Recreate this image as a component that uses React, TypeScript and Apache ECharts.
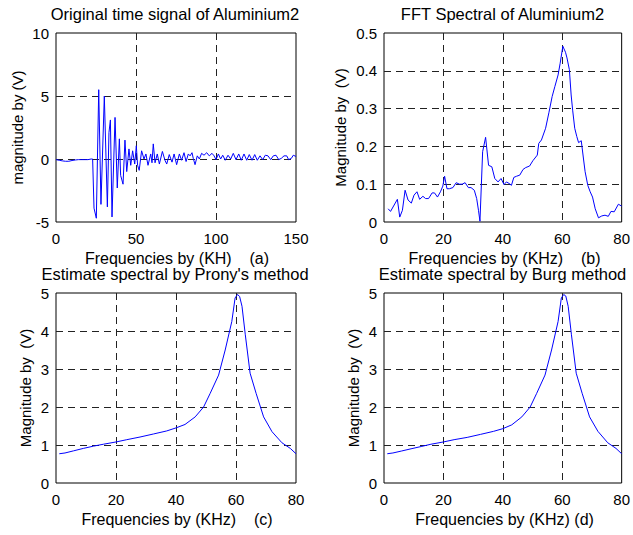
import React, { useEffect, useRef } from "react";
import * as echarts from "echarts";

// Panel (a): original time signal
const sigT = [0, 2, 4, 6, 8, 10, 12, 14, 16, 18, 20, 22, 22.9, 23.75, 25.2, 26.7, 28.1, 30.2, 32.1, 33.1, 34, 35, 36.9, 38.3, 39.6, 40.4, 41.9, 43.1, 44.2, 45.6, 46.7, 47.9, 49.2, 50.2, 51, 52, 53.5, 55, 56.2, 57.5, 59.2, 60, 60.8, 61.9, 63.3, 64.6, 66.5, 68.1, 69.2, 70.8, 72.5, 73.8, 75.4, 77.1, 78.5, 80, 81.3, 82.7, 83.8, 85, 85.8, 86.9, 88.3, 89.6, 91, 92.5, 94.2, 95.8, 97.5, 98.8, 100, 101.5, 102.9, 104.2, 105.8, 107.5, 109.2, 110.8, 112.5, 114.2, 115.8, 117.5, 119.2, 120.8, 122.5, 124.2, 125.8, 127.5, 129.2, 130.8, 132.5, 134.2, 135.8, 137.5, 139.2, 140.8, 142.5, 144.2, 145.4, 147.1, 148.3, 150];
const sigV = [-0.05, -0.1, -0.15, -0.18, -0.18, -0.12, -0.08, -0.05, -0.05, -0.05, -0.05, 0, 0, -3.9, -4.7, 5.5, -3.6, 5.0, -3.8, 2.1, 3.1, -4.6, 3.3, -2.3, 1.6, -1.3, -2.0, 1.5, -1.0, 0.8, -0.5, 0.65, -0.4, 1.05, -0.5, -0.9, 0.65, 0, 0.4, -0.5, 0.4, -0.3, 1.2, -0.3, 0.4, -0.4, 0.6, -0.1, -0.4, 0.35, -0.25, 0.4, -0.45, 0.4, -0.1, 0.5, -0.2, 0.4, 0.25, 0.5, 0.05, -0.45, 0.25, 0, 0.45, 0.3, 0.5, 0.25, 0.45, 0.25, -0.05, 0.4, 0, 0.3, -0.1, 0.3, 0, 0.45, -0.05, 0.4, -0.1, 0.4, -0.1, 0.35, -0.1, 0.35, -0.1, 0.25, -0.05, 0.3, 0.25, -0.05, 0.25, 0.3, -0.05, 0.05, 0.25, 0.25, -0.05, 0.05, 0.3, 0.2];

// Panel (b): FFT spectrum
const fftF = [1.4, 2.2, 4.5, 5.3, 6.2, 7.1, 8.1, 9.2, 10.1, 11.1, 12, 13.1, 14, 15, 16.2, 17, 18, 19, 19.8, 20.4, 21.2, 22, 23.2, 24.3, 25.4, 26.3, 27.3, 28.4, 29.3, 30.4, 31.2, 31.8, 32.3, 33.2, 34.2, 35.2, 36.3, 37.3, 38.4, 39.4, 40.4, 41.2, 42.1, 42.9, 43.7, 44.6, 45.7, 46.8, 47.7, 49, 50.1, 51.6, 52.1, 53, 54.4, 55.5, 56.6, 57.5, 58.6, 59.3, 60.2, 61.1, 61.6, 62.4, 63, 63.5, 64.2, 64.9, 65.5, 66.4, 67.2, 67.7, 68.6, 69.4, 70.2, 71.1, 72.2, 73.3, 74.4, 75.5, 76.4, 77.5, 78.9, 80];
const fftA = [0.035, 0.028, 0.06, 0.013, 0.031, 0.084, 0.058, 0.05, 0.071, 0.08, 0.06, 0.068, 0.062, 0.062, 0.077, 0.077, 0.066, 0.08, 0.095, 0.121, 0.088, 0.088, 0.091, 0.104, 0.1, 0.1, 0.104, 0.091, 0.091, 0.084, 0.062, 0.031, 0.002, 0.186, 0.224, 0.15, 0.146, 0.115, 0.106, 0.115, 0.099, 0.106, 0.102, 0.097, 0.118, 0.121, 0.124, 0.139, 0.144, 0.148, 0.162, 0.177, 0.208, 0.217, 0.248, 0.289, 0.332, 0.358, 0.389, 0.42, 0.465, 0.449, 0.434, 0.403, 0.336, 0.296, 0.248, 0.226, 0.21, 0.215, 0.164, 0.133, 0.097, 0.08, 0.066, 0.035, 0.011, 0.016, 0.018, 0.015, 0.028, 0.027, 0.047, 0.042];

// Panel (c): Prony estimate
const pronyF = [1.1, 3, 5.8, 9.1, 12.5, 15.8, 20, 23.6, 28, 32.5, 36.9, 40, 43, 46.4, 49.2, 51.4, 54.2, 56.4, 58.6, 59.7, 60.5, 61.2, 62, 63.1, 64.7, 66.7, 69.2, 72, 75.3, 78.1, 80];
const pronyA = [0.77, 0.79, 0.845, 0.91, 0.97, 1.02, 1.08, 1.14, 1.21, 1.29, 1.37, 1.45, 1.54, 1.74, 2.0, 2.36, 2.84, 3.5, 4.25, 4.87, 4.96, 4.91, 4.65, 3.9, 2.89, 2.36, 1.74, 1.35, 1.06, 0.91, 0.77];

// Panel (d): Burg estimate
const burgF = [1.1, 3, 5.8, 9.1, 12.5, 15.8, 20, 23.6, 28, 32.5, 36.9, 40, 43, 46.4, 49.2, 51.4, 54.2, 56.4, 58.6, 59.7, 60.5, 61.2, 62, 63.1, 64.7, 66.7, 69.2, 72, 75.3, 78.1, 80];
const burgA = [0.77, 0.79, 0.84, 0.9, 0.96, 1.02, 1.08, 1.14, 1.2, 1.28, 1.36, 1.43, 1.53, 1.74, 2.0, 2.36, 2.84, 3.5, 4.25, 4.87, 4.96, 4.92, 4.65, 3.9, 2.89, 2.36, 1.74, 1.36, 1.06, 0.91, 0.77];

const titles = ["Original time signal of Aluminium2", "FFT Spectral of Aluminium2", "Estimate spectral by Prony's method", "Estimate spectral by Burg method"];
const xNames = ["Frequencies by (KH)    (a)", "Frequencies by (KHz)    (b)", "Frequencies by (KHz)    (c)", "Frequencies by (KHz) (d)"];
const yNames = ["magnitude by (V)", "Magnitude by  (V)", "Magnitude by  (V)", "Magnitude by  (V)"];

const FONT = "'Liberation Sans', Arial, sans-serif";

export default function App() {
  const ref = useRef<HTMLDivElement>(null);
  useEffect(() => {
    if (!ref.current) return;
    const chart = echarts.init(ref.current, null, { renderer: "svg" });
    const grids = [
      { left: 56, top: 33, width: 240, height: 189 },
      { left: 384, top: 33, width: 239, height: 189 },
      { left: 56, top: 293, width: 240, height: 190 },
      { left: 384, top: 293, width: 239, height: 190 },
    ];
    const xr = [
      { min: 0, max: 150, interval: 50 },
      { min: 0, max: 80, interval: 20 },
      { min: 0, max: 80, interval: 20 },
      { min: 0, max: 80, interval: 20 },
    ];
    const yr = [
      { min: -5, max: 10, interval: 5 },
      { min: 0, max: 0.5, interval: 0.1 },
      { min: 0, max: 5, interval: 1 },
      { min: 0, max: 5, interval: 1 },
    ];
    const dash = { color: "#222", width: 1, type: [7, 5] as any };
    const label = { color: "#000", fontSize: 15, fontFamily: FONT };
    const mk = (xs: number[], ys: number[]) => xs.map((x, i) => [x, ys[i]]);
    const datas = [mk(sigT, sigV), mk(fftF, fftA), mk(pronyF, pronyA), mk(burgF, burgA)];

    const graphics: any[] = [];
    grids.forEach((g, i) => {
      const cx = g.left + g.width / 2;
      const cy = g.top + g.height / 2;
      graphics.push({
        type: "text", x: cx - 1, y: g.top - 19,
        style: { text: titles[i], fill: "#000", font: `16.5px ${FONT}`, textAlign: "center", textVerticalAlign: "middle" },
      });
      graphics.push({
        type: "text", x: cx + 1, y: g.top + g.height + 36,
        style: { text: xNames[i], fill: "#000", font: `16px ${FONT}`, textAlign: "center", textVerticalAlign: "middle" },
      });
      const yx = i === 0 ? 17 : i === 1 ? 340 : i === 2 ? 25 : 353;
      graphics.push({
        type: "text", x: yx, y: cy, rotation: Math.PI / 2,
        style: { text: yNames[i], fill: "#000", font: `15px ${FONT}`, textAlign: "center", textVerticalAlign: "middle" },
      });
    });

    chart.setOption({
      animation: false,
      backgroundColor: "#fff",
      grid: grids.map((g) => ({ ...g, show: true, borderColor: "#000", borderWidth: 1, backgroundColor: "#fff" })),
      xAxis: xr.map((r, i) => ({
        type: "value", gridIndex: i, ...r,
        axisLine: { show: false },
        axisTick: { show: false },
        axisLabel: { ...label, margin: 9 },
        splitLine: { show: true, lineStyle: dash, showMinLine: false, showMaxLine: false },
      })),
      yAxis: yr.map((r, i) => ({
        type: "value", gridIndex: i, ...r,
        axisLine: { show: false },
        axisTick: { show: false },
        axisLabel: { ...label, margin: 7 },
        splitLine: { show: true, lineStyle: dash, showMinLine: false, showMaxLine: false },
      })),
      series: datas.map((d, i) => ({
        type: "line", xAxisIndex: i, yAxisIndex: i, data: d,
        showSymbol: false, symbol: "none",
        lineStyle: { color: "#0000ff", width: 1 },
        z: 5,
      })),
      graphic: graphics,
    });
    return () => chart.dispose();
  }, []);
  return <div ref={ref} style={{ position: "fixed", left: 0, top: 0, width: 633, height: 535 }} />;
}
